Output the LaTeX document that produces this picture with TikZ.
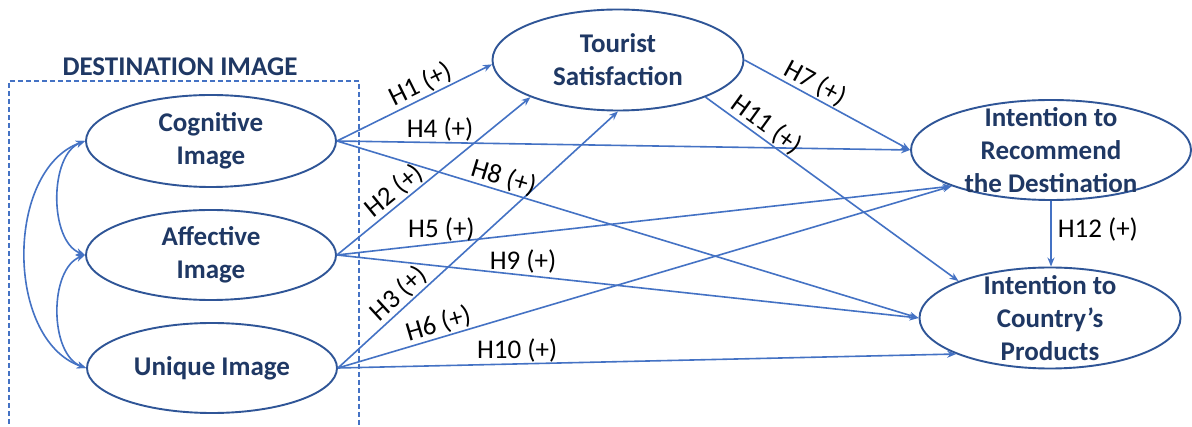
\documentclass[tikz,border=0pt]{standalone}
\usepackage{fontspec}
\setmainfont{Carlito}
\usetikzlibrary{shapes.geometric,arrows.meta}
\definecolor{navy}{HTML}{1F3864}
\definecolor{edgeblue}{HTML}{2F5597}
\definecolor{arrblue}{HTML}{4472C4}
\begin{document}
\begin{tikzpicture}[x=1pt,y=1pt,
 ell/.style={ellipse, draw=edgeblue, line width=1.9pt, inner sep=0pt},
 ttl/.style={text=navy, font=\fontsize{27}{33}\selectfont\bfseries, align=center, inner sep=0pt},
 hyp/.style={-{Stealth[length=9pt,width=7pt]}, draw=arrblue, line width=1.6pt},
 dbl/.style={{Stealth[length=9pt,width=7pt]}-{Stealth[length=9pt,width=7pt]}, draw=arrblue, line width=1.6pt},
 lab/.style={font=\fontsize{27}{30}\selectfont, text=black, inner sep=1pt}]
\useasboundingbox (0,0) rectangle (1192,-427);
\fill[white] (0,0) rectangle (1192,-427);
% dashed group box
\draw[draw=arrblue, line width=1.3pt, dash pattern=on 5pt off 3pt] (9,-432) -- (9,-81) -- (359,-81) -- (359,-432);
\node[text=navy, font=\fontsize{27}{30}\selectfont\bfseries, inner sep=0pt] (dtitle) at (180,-67) {DESTINATION IMAGE};
% ellipses
\node[ell, minimum width=250, minimum height=92] (cog) at (211,-141) {};
\node[ttl] (cogt) at (cog.center) {Cognitive\\Image};
\node[ell, minimum width=250, minimum height=90] (aff) at (211,-255) {};
\node[ttl] (afft) at (aff.center) {Affective\\Image};
\node[ell, minimum width=250, minimum height=90] (uni) at (212,-368) {};
\node[ttl] (unit) at (uni.center) {Unique Image};
\node[ell, minimum width=251, minimum height=101] (ts) at (618,-60) {};
\node[ttl] (tst) at (ts.center) {Tourist\\Satisfaction};
\node[ell, minimum width=280, minimum height=100] (rec) at (1051,-150) {};
\node[ttl] (rect) at (rec.center) {Intention to\\Recommend\\the Destination};
\node[ell, minimum width=261, minimum height=101] (prod) at (1050,-318) {};
\node[ttl] (prodt) at (prod.center) {Intention to\\Country’s\\Products};
% correlations
\draw[dbl] (cog.west) .. controls (49,-155) and (49,-241) .. (aff.west);
\draw[dbl] (aff.west) .. controls (49,-269) and (49,-354) .. (uni.west);
\draw[dbl] (cog.west) .. controls (5,-170) and (5,-340) .. (uni.west);
% hypotheses
\draw[hyp] (cog.east) -- node[lab, sloped, above, pos=0.58] (l1) {H1 (+)} (ts.182);
\draw[hyp] (aff.east) -- node[lab, sloped, above, pos=0.34] (l2) {H2 (+)} (ts.203);
\draw[hyp] (uni.east) -- node[lab, sloped, above, pos=0.25] (l3) {H3 (+)} (ts.south);
\draw[hyp] (cog.east) -- node[lab, above, pos=0.18] (l4) {H4 (+)} (rec.west);
\draw[hyp] (aff.east) -- node[lab, above, pos=0.17] (l5) {H5 (+)} (rec.200);
\draw[hyp] (uni.east) -- node[lab, sloped, above, pos=0.17] (l6) {H6 (+)} (rec.200);
\draw[hyp] (ts.east) -- node[lab, sloped, above, pos=0.39] (l7) {H7 (+)} (rec.west);
\draw[hyp] (cog.east) -- node[lab, sloped, above, pos=0.28] (l8) {H8 (+)} (prod.west);
\draw[hyp] (aff.east) -- node[lab, above, pos=0.32] (l9) {H9 (+)} (prod.west);
\draw[hyp] (uni.east) -- node[lab, above, pos=0.29] (l10) {H10 (+)} (prod.201);
\draw[hyp] (ts.-23) -- node[lab, sloped, above, pos=0.21] (l11) {H11 (+)} (prod.158);
\draw[hyp] (rec.south) -- node[lab, right=5pt, pos=0.44] (l12) {H12 (+)} (rec.south |- prod.north);
\end{tikzpicture}
\end{document}
